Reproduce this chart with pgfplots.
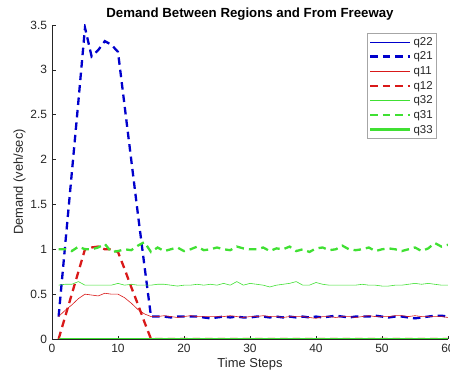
\documentclass[border=0pt]{standalone}
\usepackage{pgfplots}
\usepackage{pgfplotstable}
\pgfplotsset{compat=1.18}
\usepackage{fontspec}
\setmainfont{Liberation Sans}
\definecolor{axgray}{rgb}{0.15,0.15,0.15}
\definecolor{mblue}{rgb}{0,0,0.8}
\definecolor{mred}{rgb}{0.85,0.1,0.1}
\definecolor{mgreen}{rgb}{0.25,0.88,0.2}
\pgfplotstableread{
t q22 q21 q11 q12 q32 q31 q33
1 0 0.25 0.25 0.00 0.60 1.00 0
2 0 1.05 0.32 0.25 0.61 1.00 0
3 0 1.85 0.38 0.50 0.61 0.98 0
4 0 2.65 0.45 0.75 0.64 1.03 0
5 0 3.47 0.50 1.00 0.60 1.00 0
6 0 3.15 0.49 1.02 0.60 1.00 0
7 0 3.22 0.48 1.03 0.60 1.02 0
8 0 3.32 0.51 1.00 0.60 1.06 0
9 0 3.28 0.50 1.00 0.60 0.97 0
10 0 3.20 0.50 0.97 0.62 0.98 0
11 0 2.60 0.46 0.78 0.60 1.00 0
12 0 2.00 0.40 0.58 0.61 0.99 0
13 0 1.40 0.33 0.39 0.60 1.04 0
14 0 0.82 0.28 0.19 0.60 1.08 0
15 0 0.25 0.25 0.00 0.60 0.97 0
16 0 0.25 0.25 0 0.61 1.02 0
17 0 0.25 0.26 0 0.61 0.98 0
18 0 0.24 0.25 0 0.60 1.00 0
19 0 0.25 0.24 0 0.59 1.02 0
20 0 0.25 0.25 0 0.60 0.98 0
21 0 0.25 0.26 0 0.60 1.00 0
22 0 0.25 0.25 0 0.61 1.03 0
23 0 0.24 0.25 0 0.60 0.99 0
24 0 0.23 0.25 0 0.61 1.00 0
25 0 0.24 0.25 0 0.60 1.02 0
26 0 0.25 0.25 0 0.62 1.00 0
27 0 0.24 0.26 0 0.60 0.99 0
28 0 0.25 0.25 0 0.64 1.03 0
29 0 0.24 0.24 0 0.60 1.01 0
30 0 0.24 0.25 0 0.62 1.00 0
31 0 0.25 0.25 0 0.61 1.00 0
32 0 0.25 0.26 0 0.60 1.02 0
33 0 0.24 0.25 0 0.58 0.98 0
34 0 0.25 0.25 0 0.60 1.01 0
35 0 0.24 0.24 0 0.61 1.00 0
36 0 0.25 0.25 0 0.62 1.03 0
37 0 0.24 0.25 0 0.64 0.98 0
38 0 0.25 0.25 0 0.60 1.00 0
39 0 0.24 0.24 0 0.60 0.97 0
40 0 0.25 0.23 0 0.63 1.01 0
41 0 0.24 0.25 0 0.61 1.02 0
42 0 0.25 0.25 0 0.60 0.99 0
43 0 0.26 0.24 0 0.60 1.00 0
44 0 0.25 0.25 0 0.60 1.04 0
45 0 0.24 0.25 0 0.60 1.00 0
46 0 0.25 0.24 0 0.60 0.99 0
47 0 0.25 0.25 0 0.61 1.00 0
48 0 0.25 0.26 0 0.60 1.02 0
49 0 0.26 0.25 0 0.60 0.98 0
50 0 0.25 0.25 0 0.59 1.00 0
51 0 0.24 0.25 0 0.59 1.01 0
52 0 0.25 0.26 0 0.60 1.00 0
53 0 0.25 0.26 0 0.60 0.98 0
54 0 0.24 0.25 0 0.61 1.00 0
55 0 0.23 0.26 0 0.62 1.02 0
56 0 0.24 0.25 0 0.61 0.98 0
57 0 0.25 0.25 0 0.62 1.01 0
58 0 0.26 0.25 0 0.61 1.07 0
59 0 0.26 0.25 0 0.60 1.03 0
60 0 0.25 0.24 0 0.60 1.05 0
}\datatable
\begin{document}
\begin{tikzpicture}
\path[use as bounding box] (0,0) rectangle (450bp,379bp);
\begin{axis}[
  at={(52bp,40bp)}, anchor=south west,
  scale only axis, width=396bp, height=314bp,
  xmin=0, xmax=60, ymin=0, ymax=3.5,
  axis x line*=bottom, axis y line*=left,
  axis line style={axgray, line width=0.6pt},
  every tick/.style={axgray, line width=0.5pt},
  tick align=inside, major tick length=3.5bp,
  xtick={0,10,20,30,40,50,60},
  ytick={0,0.5,1,1.5,2,2.5,3,3.5},
  yticklabels={0,0.5,1,1.5,2,2.5,3,3.5},
  xticklabels={0,10,20,30,40,50,60},
  tick label style={font=\fontsize{12}{13}\selectfont, text=axgray},
  xticklabel style={yshift=-2bp},
  yticklabel style={xshift=-1.5bp},
  xlabel={Time Steps}, ylabel={Demand (veh/sec)},
  label style={font=\fontsize{13}{14}\selectfont, text=axgray},
  xlabel style={yshift=2bp},
  ylabel style={yshift=-2bp},
  title={Demand Between Regions and From Freeway},
  title style={font=\bfseries\fontsize{13.3}{14}\selectfont, yshift=-5bp},
  legend style={at={(0.972,0.975)}, anchor=north east, draw=gray!70, line width=0.5pt,
    font=\fontsize{11.5}{12}\selectfont, text=axgray, row sep=1.2bp, inner sep=2bp},
  legend cell align=left,
  legend image code/.code={\draw[#1] (0bp,0bp) -- (40bp,0bp);},
]
\addplot[mblue, line width=0.6pt] table[x=t,y=q22] {\datatable};
\addlegendentry{q22}
\addplot[mblue, line width=2.3pt, dash pattern=on 7.5bp off 5bp] table[x=t,y=q21] {\datatable};
\addlegendentry{q21}
\addplot[mred, line width=0.6pt] table[x=t,y=q11] {\datatable};
\addlegendentry{q11}
\addplot[mred, line width=2.3pt, dash pattern=on 7.5bp off 5bp] table[x=t,y=q12] {\datatable};
\addlegendentry{q12}
\addplot[mgreen, line width=0.6pt] table[x=t,y=q32] {\datatable};
\addlegendentry{q32}
\addplot[mgreen, line width=2.3pt, dash pattern=on 7.5bp off 5bp] table[x=t,y=q31] {\datatable};
\addlegendentry{q31}
\addplot[mgreen, line width=2.6pt] table[x=t,y=q33] {\datatable};
\addlegendentry{q33}
\end{axis}
\end{tikzpicture}
\end{document}
